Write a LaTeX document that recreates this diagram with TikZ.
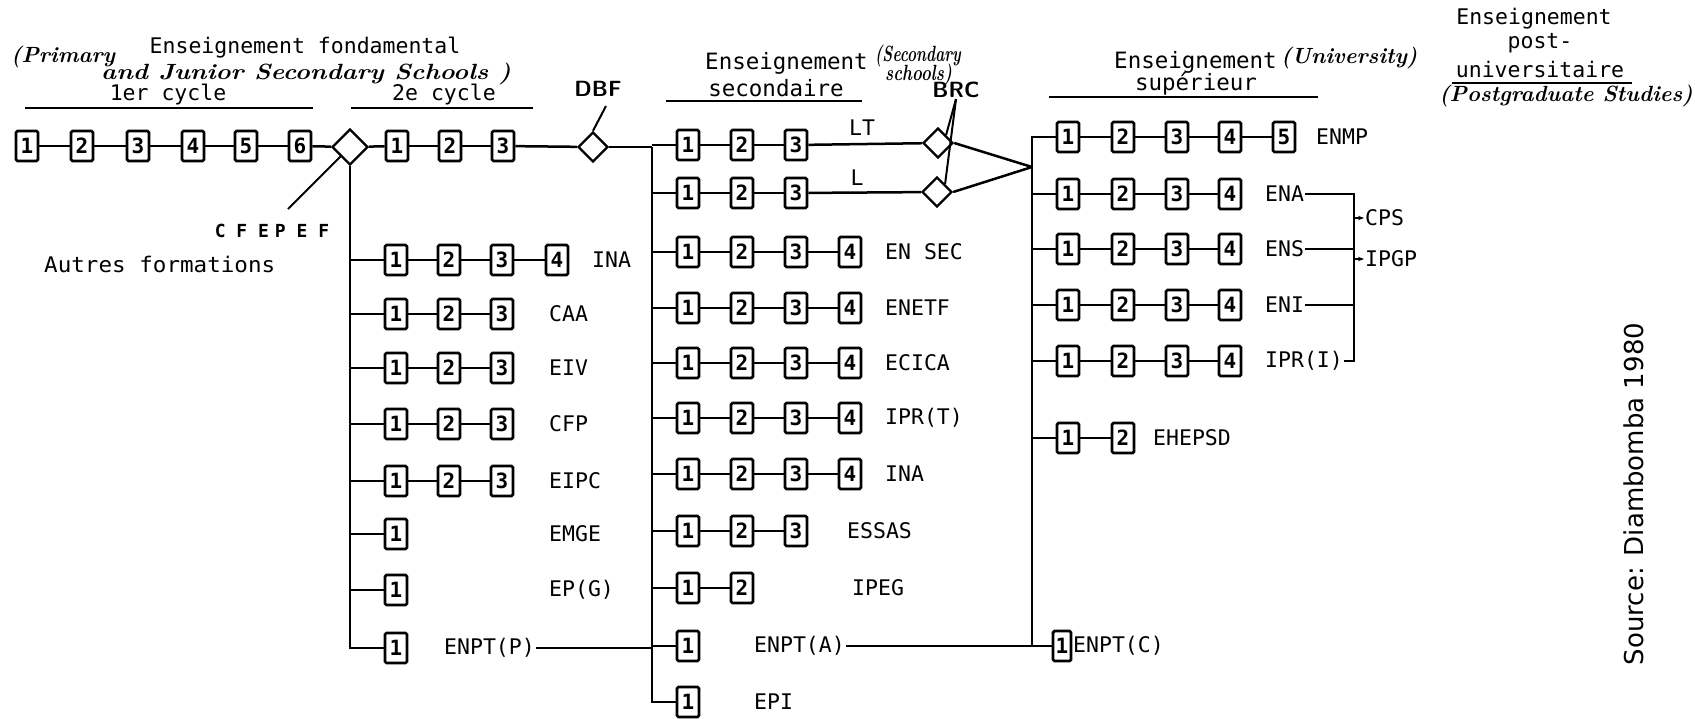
\documentclass[tikz,border=0pt]{standalone}
\usepackage{fontspec}
\usepackage{graphicx}
\setmonofont{DejaVu Sans Mono}
\newfontfamily\srcfont{DejaVu Sans}
\usetikzlibrary{shapes.geometric,arrows.meta}
\tikzset{
  yr/.style={draw, line width=2.8pt, rounded corners=1.5pt, minimum width=22pt, minimum height=30pt, inner sep=0pt, font=\ttfamily\bfseries\fontsize{21}{21}\selectfont},
  conn/.style={line width=2.5pt},
  thinl/.style={line width=2pt},
  gate/.style={draw, diamond, shape aspect=1, minimum width=30pt, minimum height=30pt, inner sep=0pt, line width=2.4pt},
  lab/.style={anchor=west, inner sep=1pt, font=\ttfamily\fontsize{21.5}{21.5}\selectfont},
  hdr/.style={inner sep=1pt, font=\ttfamily\fontsize{21.5}{21.5}\selectfont},
  bighdr/.style={inner sep=1pt, font=\ttfamily\fontsize{22.5}{22.5}\selectfont},
  hand/.style={inner sep=1pt, font=\bfseries\itshape\fontsize{22}{22}\selectfont},
  bold/.style={inner sep=1pt, font=\sffamily\bfseries\fontsize{22}{22}\selectfont},
  ul/.style={line width=2.4pt},
}
\newcommand\rowboxes[3]{%
  \foreach \xx [count=\ii] in {#3}{%
    \node[yr] (#1-\ii) at (\xx,#2) {\ii};
    \ifnum\ii>1
      \pgfmathtruncatemacro\jj{\ii-1}
      \draw[conn] (#1-\jj) -- (#1-\ii);
    \fi
  }%
}
\begin{document}
\begin{tikzpicture}[x=1pt,y=-1pt]
\useasboundingbox[fill=white] (0,0) rectangle (1695,718);

% ---------- headers ----------
\node[hdr] (hF) at (305,48) {Enseignement fondamental};
\node[hand, anchor=west] (hP) at (10,57) {(Primary};
\node[hand, anchor=west] (hJ) at (100,74) {\scalebox{1.16}[1]{and Junior Secondary Schools )}};
\node[hdr] (c1) at (168,95) {1er cycle};
\node[hdr] (c2) at (444,95) {2e cycle};
\draw[ul] (25,108) -- (313,108);
\draw[ul] (351,108) -- (533,108);

\node[bold] (dbf) at (598,89) {DBF};
\coordinate (dbfL) at (606,106);

\node[bighdr, anchor=west] (hS) at (704,63) {Enseignement};
\node[hand, anchor=west] (hS2) at (874,56) {\scalebox{0.7}[1]{(Secondary}};
\node[hand, anchor=west] (hS3) at (884,75) {\scalebox{0.76}[1]{schools)}};
\node[bighdr] (hS4) at (776,88) {secondaire};
\draw[ul] (666,101) -- (862,101);

\node[bold] (brc) at (956,90) {BRC};

\node[bighdr, anchor=west] (hU) at (1113,62) {Enseignement};
\node[hand, anchor=west] (hU2) at (1280,58) {(University)};
\node[bighdr] (hU3) at (1196,84) {supérieur};
\draw[ul] (1049,97) -- (1318,97);

\node[hdr] (pu1) at (1534,19) {Enseignement};
\node[hdr] (pu2) at (1540,43) {post-};
\node[hdr] (pu3) at (1540,69) {universitaire};
\draw[ul] (1452,83) -- (1632,83);
\node[hand] (pu4) at (1566,96) {(Postgraduate Studies)};

% ---------- main line ----------
\rowboxes{p}{146}{27,82,138,193,246,300}
\node[gate, minimum width=36pt, minimum height=36pt] (g1) at (350,147) {};
\draw[conn] (p-6) -- (g1);
\rowboxes{q}{146}{397,450,503}
\draw[conn] (g1) -- (q-1);
\node[gate] (dbfg) at (593,147) {};
\draw[conn] (q-3) -- (dbfg);
\draw[thinl] (dbfg.north) -- (dbfL);

\node[font=\ttfamily\bfseries\fontsize{18}{18}\selectfont] (cfe) at (272,231) {C F E\,\,P E F};
\coordinate (cfeL) at (288,209);
\draw[thinl] (g1.south west) -- (cfeL);
\node[lab] (autres) at (43,264) {\scalebox{1.05}[1]{Autres formations}};

% ---------- 2e cycle branches ----------
\rowboxes{b1}{260}{396,449,502,557}
\rowboxes{b2}{314}{396,449,502}
\rowboxes{b3}{368}{396,449,502}
\rowboxes{b4}{424}{396,449,502}
\rowboxes{b5}{481}{396,449,502}
\rowboxes{b6}{534}{396}
\rowboxes{b7}{590}{396}
\rowboxes{b8}{648}{396}
\node[lab] at (591,260) {INA};
\node[lab] at (548,314) {CAA};
\node[lab] at (548,368) {EIV};
\node[lab] at (548,424) {CFP};
\node[lab] at (548,481) {EIPC};
\node[lab] at (548,534) {EMGE};
\node[lab] at (548,590) {EP(G)};
\node[lab] (lbP) at (443,648) {ENPT(P)};
\draw[conn] (g1.south) -- (g1.south |- b8-1.west) -- (b8-1.west);
\foreach \r in {b1,b2,b3,b4,b5,b6,b7}{\draw[conn] (\r-1.west) -- (\r-1.west -| g1.south);}

% ---------- secondary ----------
\coordinate (secTop) at (652,147);
\rowboxes{lt}{145}{688,742,796}
\draw[conn] (dbfg) -- (secTop);
\rowboxes{l}{193}{688,742,796}
\rowboxes{s1}{252}{688,742,796,850}
\rowboxes{s2}{308}{688,742,796,850}
\rowboxes{s3}{363}{688,742,796,850}
\rowboxes{s4}{418}{688,742,796,850}
\rowboxes{s5}{474}{688,742,796,850}
\rowboxes{s6}{531}{688,742,796}
\rowboxes{s7}{588}{688,742}
\rowboxes{s8}{646}{688}
\rowboxes{s9}{702}{688}
\draw[conn] (secTop) -- (secTop |- s9-1.west) -- (s9-1.west);
\foreach \r in {lt,l,s1,s2,s3,s4,s5,s6,s7,s8}{\draw[conn] (\r-1.west) -- (\r-1.west -| secTop);}
\draw[conn] (lbP.east) -- (lbP.east -| secTop);
\node[lab] at (884,252) {EN SEC};
\node[lab] at (884,308) {ENETF};
\node[lab] at (884,363) {ECICA};
\node[lab] at (884,418) {IPR(T)};
\node[lab] at (884,474) {INA};
\node[lab] at (846,531) {ESSAS};
\node[lab] at (851,588) {IPEG};
\node[lab] (lbA) at (753,646) {ENPT(A)};
\node[lab] at (753,702) {EPI};

\node[gate] (dlt) at (938,143) {};
\node[gate] (dl) at (937,192) {};
\draw[conn] (lt-3) -- (dlt);
\draw[conn] (l-3) -- (dl);
\node[hdr] (lLT) at (862,128) {LT};
\node[hdr] (lL) at (857,178) {L};
\draw[thinl] (brc.south) -- (dlt.north east);
\draw[thinl] (brc.south) -- (dl.north east);
\coordinate (conv) at (1032,167);
\draw[conn] (dlt.east) -- (conv);
\draw[conn] (dl.east) -- (conv);

% ---------- superieur ----------
\coordinate (supTop) at (1032,137);
\rowboxes{u1}{137}{1068,1123,1177,1230,1284}
\rowboxes{u2}{194}{1068,1123,1177,1230}
\rowboxes{u3}{249}{1068,1123,1177,1230}
\rowboxes{u4}{305}{1068,1123,1177,1230}
\rowboxes{u5}{361}{1068,1123,1177,1230}
\rowboxes{u6}{438}{1068,1123}
\node[yr, minimum width=18pt] (u7-1) at (1062,646) {1};
\draw[conn] (u1-1.west) -- (supTop) -- (supTop |- u7-1.west) -- (u7-1.west);
\foreach \r in {u2,u3,u4,u5,u6}{\draw[conn] (\r-1.west) -- (\r-1.west -| supTop);}
\draw[conn] (lbA.east) -- (lbA.east -| supTop);
\node[lab] at (1315,137) {ENMP};
\node[lab] (lbENA) at (1264,194) {ENA};
\node[lab] (lbENS) at (1264,249) {ENS};
\node[lab] (lbENI) at (1264,305) {ENI};
\node[lab] (lbIPR) at (1264,361) {IPR(I)};
\node[lab] at (1152,438) {EHEPSD};
\node[lab, inner sep=0pt] at (1073,646) {ENPT(C)};

\coordinate (cvx) at (1354,194);
\draw[conn] (lbENA.east) -- (cvx) -- (cvx |- lbIPR.east) -- (lbIPR.east);
\draw[conn] (lbENS.east) -- (lbENS.east -| cvx);
\draw[conn] (lbENI.east) -- (lbENI.east -| cvx);
\coordinate (cpsS) at (1354,218);
\coordinate (ipgS) at (1354,259);
\node[lab] (cps) at (1364,218) {CPS};
\node[lab] (ipgp) at (1364,259) {IPGP};
\draw[thinl,-{Stealth[length=6pt]}] (cpsS) -- (cps.west);
\draw[thinl,-{Stealth[length=6pt]}] (ipgS) -- (ipgp.west);

% ---------- source ----------
\node[rotate=90, inner sep=0pt, font=\srcfont\fontsize{26}{26}\selectfont] (src) at (1634,494) {Source: Diambomba 1980};
\end{tikzpicture}
\end{document}
